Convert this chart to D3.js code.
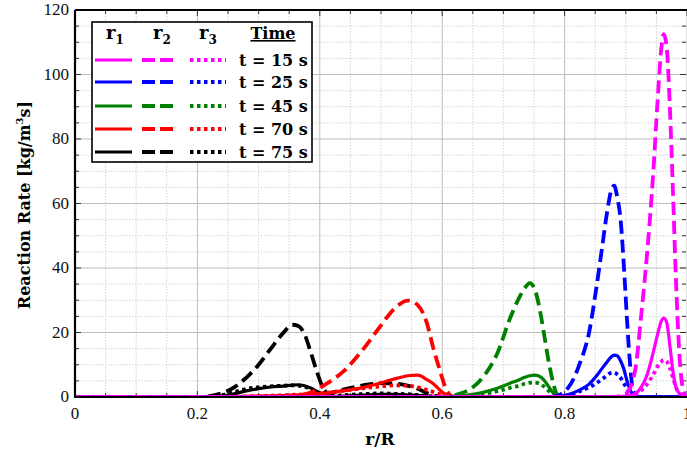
<!DOCTYPE html>
<html><head><meta charset="utf-8">
<script src="https://cdn.jsdelivr.net/npm/d3@7"></script>
<style>body{margin:0;background:#fff}svg{display:block}</style>
</head><body><svg id="c" width="687" height="453"></svg>
<script>
// ---- data ----
const times = ["t = 15 s","t = 25 s","t = 45 s","t = 70 s","t = 75 s"];
const colors = ["#ff00ff","#0000ff","#008000","#ff0000","#000000"];
const xTicks = [0,0.2,0.4,0.6,0.8,1];
const xTickLabels = ["0","0.2","0.4","0.6","0.8","1"];
const yTicks = [0,20,40,60,80,100,120];

const grid15 = [0,0.88,0.9,0.915,0.925,0.935,0.945,0.952,0.958,0.962,0.967,0.972,0.977,0.982,0.988,0.994,1.0];
const r1_15 = [0,0,0.2,1,3,7,14,19.5,23.5,24.5,23,16,8,3,1,0.3,0];
const r2_15 = [0,0,1,8,25,45,70,92,108,112.5,108,90,64,36,12,2,0];
const r3_15 = [0,0,0.2,0.8,2,4,7,9.5,11,11.5,11,9,6,3,1,0.3,0];

const grid25 = [0,0.78,0.795,0.81,0.825,0.84,0.852,0.861,0.87,0.876,0.881,0.886,0.892,0.897,0.902,0.907,0.912,0.92,1.0];
const r1_25 = [0,0,0.3,1,2.2,4,6.5,8.8,11,12.4,13,12.8,11,8.5,5,2.2,0.6,0,0];
const r2_25 = [0,0,1,4,10.5,20,34,46,58,64,65.5,62,54,40,24,10,2,0,0];
const r3_25 = [0,0,0.2,0.7,1.8,3,4.3,5.5,6.8,7.5,7.6,7,5.8,4.2,2.6,1.2,0.4,0,0];

const grid45 = [0,0.6,0.625,0.65,0.67,0.69,0.71,0.725,0.735,0.743,0.75,0.758,0.766,0.773,0.78,0.787,0.795,1.0];
const r1_45 = [0,0,0.3,0.8,1.6,2.7,4.2,5.3,6.1,6.6,6.8,6.5,5.3,3.5,1.6,0.4,0,0];
const r2_45 = [0,0,0.8,3,7,13.5,24,30.5,33.8,35.3,34,28.5,20,12,5.5,1,0,0];
const r3_45 = [0,0,0.2,0.5,1,1.8,2.8,3.5,4.1,4.4,4.5,4.2,3.3,2.1,0.9,0.2,0,0];

const grid70 = [0,0.22,0.3,0.36,0.39,0.41,0.44,0.47,0.5,0.52,0.544,0.56,0.575,0.585,0.596,0.607,0.615,0.625,1.0];
const r1_70 = [0,0,0.3,0.6,0.9,1.2,2.0,2.9,4.4,5.5,6.6,6.8,5.4,4.2,2.2,0.6,0.2,0,0];
const r2_70 = [0,0,0,0.4,1.8,4,8.2,14.6,22.2,27,29.9,28.5,22.9,15.5,8.4,2.2,0.3,0,0];
const r3_70 = [0,0,0.3,0.7,1.0,1.3,2.0,2.7,3.3,3.6,3.5,3.0,2.2,1.6,0.9,0.3,0.1,0,0];

const grid75 = [0,0.2,0.22,0.24,0.26,0.28,0.3,0.32,0.34,0.355,0.365,0.375,0.385,0.395,0.405,0.413,0.425,0.44,0.46,0.48,0.5,0.52,0.54,0.56,0.575,0.59,0.6,1.0];
const r1_75 = [0,0,0,0.3,1.0,1.9,2.6,3.1,3.4,3.7,3.8,3.5,2.8,1.8,0.8,0.3,0.2,0.3,0.5,0.7,0.8,0.8,0.7,0.5,0.3,0.1,0,0];
const r2_75 = [0,0,0.3,1.2,3,6,10,15,19.8,22.4,22,19.5,14,8,3,1.2,1.6,2.4,3.2,3.9,4.3,4.2,3.7,2.6,1.2,0.3,0,0];
const r3_75 = [0,0,0.1,0.6,1.5,2.5,3.0,3.3,3.5,3.6,3.5,3.2,2.5,1.6,0.7,0.3,0.4,0.6,0.8,1.0,1.1,1.0,0.9,0.6,0.3,0.1,0,0];

const grids = [grid15,grid25,grid45,grid70,grid75];
const seriesR1 = [r1_15,r1_25,r1_45,r1_70,r1_75];
const seriesR2 = [r2_15,r2_25,r2_45,r2_70,r2_75];
const seriesR3 = [r3_15,r3_25,r3_45,r3_70,r3_75];

// ---- chart ----
const svg = d3.select("#c");
const L = 75, R = 687, T = 10, B = 397;
const x = d3.scaleLinear().domain([0,1]).range([L,R]);
const y = d3.scaleLinear().domain([0,120]).range([B,T]);
const font = "'Liberation Serif','DejaVu Serif',serif";
const fontW = "'DejaVu Serif',serif";

const defs = svg.append("defs");
defs.append("clipPath").attr("id","clip").append("rect")
  .attr("x",L).attr("y",T).attr("width",R-L).attr("height",B-T);

// grid
const gG = svg.append("g");
const xMinor = d3.range(0,1.0001,0.05);
const yMinor = d3.range(0,120.001,5);
const isMajX = d=>Math.abs(d*5-Math.round(d*5))<1e-6;
gG.selectAll(".vx").data(xMinor).join("line")
  .attr("x1",d=>x(d)).attr("x2",d=>x(d)).attr("y1",T).attr("y2",B)
  .attr("stroke",d=>isMajX(d)?"#bdbdbd":"#d4d4d4")
  .attr("stroke-width",1)
  .attr("stroke-dasharray",d=>isMajX(d)?null:"1.5,1.5");
gG.selectAll(".hy").data(yMinor).join("line")
  .attr("y1",d=>y(d)).attr("y2",d=>y(d)).attr("x1",L).attr("x2",R)
  .attr("stroke",d=>d%20===0?"#bdbdbd":"#d4d4d4")
  .attr("stroke-width",1)
  .attr("stroke-dasharray",d=>d%20===0?null:"1.5,1.5");

// ticks (inward, all sides)
const tk = svg.append("g").attr("stroke","#333").attr("stroke-width",1);
xMinor.forEach(d=>{
  const big = isMajX(d);
  tk.append("line").attr("x1",x(d)).attr("x2",x(d)).attr("y1",B).attr("y2",B-(big?6:4));
  tk.append("line").attr("x1",x(d)).attr("x2",x(d)).attr("y1",T).attr("y2",T+(big?6:4));
});
yMinor.forEach(d=>{
  const big = d%20===0;
  tk.append("line").attr("y1",y(d)).attr("y2",y(d)).attr("x1",L).attr("x2",L+(big?6:4));
  tk.append("line").attr("y1",y(d)).attr("y2",y(d)).attr("x1",R-1).attr("x2",R-1-(big?6:4));
});

// lines
const gL = svg.append("g").attr("clip-path","url(#clip)");
const line = d3.line().x(d=>x(d[0])).y(d=>y(d[1])).curve(d3.curveMonotoneX);
const styles = [
  {data:seriesR1, dash:null, w:3.2},
  {data:seriesR2, dash:"13,6", w:3.8},
  {data:seriesR3, dash:"3.5,3.5", w:3.8}
];
[4,3,2,1,0].forEach(i=>{
  styles.forEach(s=>{
    const pts = grids[i].map((g,k)=>[g,s.data[i][k]]);
    gL.append("path").attr("d",line(pts)).attr("fill","none")
      .attr("stroke",colors[i]).attr("stroke-width",s.w)
      .attr("stroke-dasharray",s.dash).attr("stroke-linejoin","round");
  });
});

// frame
svg.append("path").attr("d",`M${L},${T}H${R}M${L},${T}V${B}H${R}`)
  .attr("fill","none").attr("stroke","#000").attr("stroke-width",2.2);

// axis labels
const ax = svg.append("g").attr("font-family",font).attr("font-size",17).attr("fill","#111");
ax.selectAll(".xl").data(xTicks).join("text")
  .attr("x",d=>x(d)).attr("y",B+22).attr("text-anchor","middle")
  .text((d,i)=>xTickLabels[i]);
ax.selectAll(".yl").data(yTicks).join("text")
  .attr("x",L-6).attr("y",d=>y(d)+5).attr("text-anchor","end").text(d=>d);

svg.append("text").attr("x",380).attr("y",445).attr("text-anchor","middle")
  .attr("font-family",fontW).attr("font-size",17).attr("font-weight","bold").text("r/R");
const yl = svg.append("text").attr("transform","translate(30,205) rotate(-90)")
  .attr("text-anchor","middle").attr("font-family",fontW).attr("font-size",16).attr("font-weight","bold");
yl.append("tspan").text("Reaction Rate [kg/m");
yl.append("tspan").attr("font-size",10).attr("dy",-7).text("3");
yl.append("tspan").attr("dy",7).text("s]");

// legend
const lg = svg.append("g");
lg.append("rect").attr("x",92).attr("y",22).attr("width",220).attr("height",140)
  .attr("fill","#fff").attr("stroke","#000").attr("stroke-width",1.6);
const hdr = [["r","1",115],["r","2",162],["r","3",208]];
hdr.forEach(h=>{
  const t = lg.append("text").attr("x",h[2]).attr("y",39).attr("text-anchor","middle")
    .attr("font-family",fontW).attr("font-size",18).attr("font-weight","bold");
  t.append("tspan").text(h[0]);
  t.append("tspan").attr("font-size",12).attr("dy",5).text(h[1]);
});
lg.append("text").attr("x",273).attr("y",39).attr("text-anchor","middle")
  .attr("font-family",fontW).attr("font-size",16).attr("font-weight","bold")
  .attr("text-decoration","underline").text("Time");
const rowsY = [60,82,106,129,152];
times.forEach((tt,i)=>{
  const yy = rowsY[i];
  lg.append("line").attr("x1",95).attr("x2",132).attr("y1",yy).attr("y2",yy)
    .attr("stroke",colors[i]).attr("stroke-width",3.2);
  lg.append("line").attr("x1",142).attr("x2",178).attr("y1",yy).attr("y2",yy)
    .attr("stroke",colors[i]).attr("stroke-width",3.8).attr("stroke-dasharray","13,5");
  lg.append("line").attr("x1",190).attr("x2",226).attr("y1",yy).attr("y2",yy)
    .attr("stroke",colors[i]).attr("stroke-width",3.8).attr("stroke-dasharray","3.5,3.5");
  lg.append("text").attr("x",239).attr("y",yy+6).attr("font-family",fontW)
    .attr("font-size",16).attr("font-weight","bold")
    .text(tt);
});
</script></body></html>
